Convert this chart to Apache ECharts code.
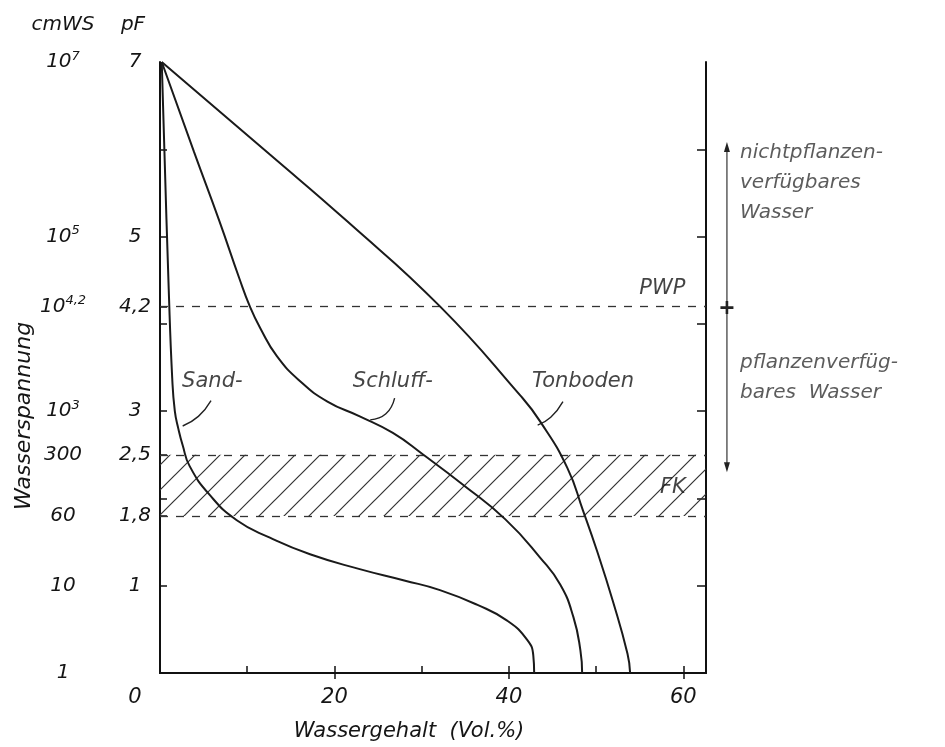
<!DOCTYPE html>
<html>
<head>
<meta charset="utf-8">
<title>Wasserspannung</title>
<script src="https://cdn.jsdelivr.net/npm/echarts@6/dist/echarts.min.js"></script>
<style>
html,body{margin:0;padding:0;background:#fff;}
#main{width:945px;height:747px;}
</style>
</head>
<body>
<div id="main"></div>
<script>
// Wassergehalt (Vol.%) gegen pF
var sand = [[0.2,7],[0.5,6],[1.0,4.4],[1.4,3.38],[1.7,3.0],[2.1,2.8],[2.6,2.61],[3.4,2.37],[5.7,2.04],[8.8,1.75],[12.6,1.55],[17.2,1.36],[22.9,1.19],[28.0,1.06],[32.1,0.95],[36.4,0.78],[39.8,0.6],[42.1,0.38],[42.8,0.2],[42.9,0]];
var schluff = [[0.2,7],[3.9,5.97],[6.8,5.18],[9.1,4.52],[10.3,4.2],[11.5,3.95],[13.4,3.63],[16.1,3.34],[19.2,3.11],[22.9,2.94],[26.7,2.75],[30.2,2.5],[34.7,2.16],[39.6,1.76],[43.6,1.32],[45.9,1.01],[47.4,0.64],[48.2,0.26],[48.4,0]];
var ton = [[0.2,7],[12.6,5.94],[21.4,5.18],[32.1,4.2],[41.3,3.18],[43.6,2.88],[46.7,2.35],[48.5,1.86],[50.1,1.4],[51.9,0.83],[53.6,0.22],[53.9,0]];

// Achsen
var xLabels = [0,20,40,60];
var xTicks = [10,20,30,40,50,60];
var pfTicks = [1,1.8,2,2.5,3,4,4.2,5,6];
var pfLabels = [1,1.8,2.5,3,4.2,5,7];
var cmwsValues = [0,1,1.8,2.5,3,4.2,5,7];
var cmwsBase = ['1','10','60','300','10','10','10','10'];
var cmwsExp = ['','','','','3','4,2','5','7'];

// Grenzwerte
var pwp = 4.2;
var fk = [1.8,2.5];

// Beschriftungen im Diagramm
var curveLabels = [['Sand-',6.0,3.34],['Schluff-',26.7,3.34],['Tonboden',48.5,3.34],['PWP',57.6,4.40],['FK',58.8,2.12]];
var sandHook = [[5.85,3.12],[4.4,2.94],[2.6,2.83]];
var schluffHook = [[26.9,3.15],[25.9,2.97],[24.1,2.9]];
var tonHook = [[46.2,3.11],[44.8,2.93],[43.3,2.84]];
var arrowPts = [[65,6.03],[65,4.2],[65,2.38]];
var sideTexts = [['nichtpflanzen-\nverfügbares\nWasser',66.5,5.62],['pflanzenverfüg-\nbares  Wasser',66.5,3.4]];

var ink = '#151515';

// Schraffur fuer FK
var hatch = document.createElement('canvas');
hatch.width = 25; hatch.height = 25;
var ctx = hatch.getContext('2d');
ctx.strokeStyle = '#333';
ctx.lineWidth = 1.2;
ctx.beginPath();
ctx.moveTo(0,25); ctx.lineTo(25,0);
ctx.moveTo(-3,3); ctx.lineTo(3,-3);
ctx.moveTo(22,28); ctx.lineTo(28,22);
ctx.stroke();

var myChart = echarts.init(document.getElementById('main'));

function curve(name, data) {
    return {
        name: name, type: 'line', data: data, smooth: 0.5,
        symbol: 'none', silent: true, z: 5,
        lineStyle: {color: '#1a1a1a', width: 2}
    };
}
function hook(data) {
    return {
        type: 'line', data: data, smooth: 0.5, symbol: 'none', silent: true, z: 5,
        lineStyle: {color: '#222', width: 1.4}
    };
}

var sandSeries = curve('Sand', sand);
sandSeries.markLine = {
    silent: true, symbol: 'none', label: {show: false},
    lineStyle: {color: '#333', width: 1.3, type: [8,8]},
    data: [{yAxis: pwp}, {yAxis: fk[0]}, {yAxis: fk[1]}]
};
sandSeries.markArea = {
    silent: true,
    itemStyle: {color: {image: hatch, repeat: 'repeat'}, opacity: 1},
    data: [[{yAxis: fk[0]}, {yAxis: fk[1]}]]
};

var option = {
    animation: false,
    grid: [
        {left: 160, right: 239, top: 62, bottom: 71},
        {left: 706, right: 0, top: 62, bottom: 71}
    ],
    xAxis: [
        {
            type: 'value', min: 0, max: 62.6, position: 'bottom',
            axisLine: {lineStyle: {color: '#111', width: 2}},
            axisTick: {show: true, inside: true, length: 7, customValues: xTicks, lineStyle: {color: '#111', width: 1.5}},
            axisLabel: {
                customValues: xLabels, margin: 14, fontSize: 21, fontFamily: 'DejaVu Sans', fontStyle: 'italic', color: ink,
                formatter: function (v) { return v === 0 ? '{z|0}' : String(v); },
                rich: {z: {fontSize: 21, fontFamily: 'DejaVu Sans', fontStyle: 'italic', color: ink, padding: [0,50,0,0]}}
            },
            splitLine: {show: false},
            name: 'Wassergehalt  (Vol.%)', nameLocation: 'middle', nameGap: 48,
            nameTextStyle: {fontSize: 21, fontFamily: 'DejaVu Sans', fontStyle: 'italic', color: ink, padding: [0,48,0,0]}
        },
        {
            type: 'value', min: 0, max: 62.6, position: 'top',
            axisLine: {lineStyle: {color: '#111', width: 2}},
            axisTick: {show: true, inside: true, length: 6, customValues: [20,40,60], lineStyle: {color: '#111', width: 1.5}},
            axisLabel: {show: false}, splitLine: {show: false}
        },
        {
            type: 'value', gridIndex: 1, min: 62.6, max: 90, show: false
        }
    ],
    yAxis: [
        {
            type: 'value', min: 0, max: 7, position: 'left',
            axisLine: {show: true, lineStyle: {color: '#111', width: 2}},
            axisTick: {show: true, inside: true, length: 7, customValues: pfTicks, lineStyle: {color: '#111', width: 1.5}},
            axisLabel: {show: false}, splitLine: {show: false}
        },
        {
            type: 'value', min: 0, max: 7, position: 'left', offset: 25,
            axisLine: {show: false}, axisTick: {show: false}, splitLine: {show: false},
            axisLabel: {
                customValues: pfLabels, margin: 0, align: 'center', fontSize: 20,
                fontFamily: 'DejaVu Sans', fontStyle: 'italic', color: ink,
                formatter: function (v) { return String(v).replace('.', ','); }
            }
        },
        {
            type: 'value', min: 0, max: 7, position: 'left', offset: 97,
            axisLine: {show: false}, axisTick: {show: false}, splitLine: {show: false},
            axisLabel: {
                customValues: cmwsValues, margin: 0, align: 'center', fontSize: 20,
                fontFamily: 'DejaVu Sans', fontStyle: 'italic', color: ink,
                formatter: function (v) {
                    var i = cmwsValues.indexOf(v);
                    if (i < 0) return '';
                    return cmwsExp[i] ? '{b|' + cmwsBase[i] + '}{e|' + cmwsExp[i] + '}' : '{b|' + cmwsBase[i] + '}';
                },
                rich: {
                    b: {fontSize: 20, lineHeight: 24, fontFamily: 'DejaVu Sans', fontStyle: 'italic', color: ink},
                    e: {fontSize: 13, lineHeight: 13, verticalAlign: 'top', fontFamily: 'DejaVu Sans', fontStyle: 'italic', color: ink}
                }
            }
        },
        {
            type: 'value', min: 0, max: 7, position: 'right',
            axisLine: {show: true, lineStyle: {color: '#111', width: 2}},
            axisTick: {show: true, inside: true, length: 9, customValues: [1,2,3,4,5,6], lineStyle: {color: '#111', width: 1.5}},
            axisLabel: {show: false}, splitLine: {show: false}
        },
        {
            type: 'value', gridIndex: 1, min: 0, max: 7, show: false
        }
    ],
    graphic: [
        {
            type: 'text', x: 24, y: 416, rotation: Math.PI / 2,
            style: {text: 'Wasserspannung', fill: ink, font: 'italic 22px "DejaVu Sans"', align: 'center', verticalAlign: 'middle'}
        },
        {
            type: 'text', x: 63, y: 25,
            style: {text: 'cmWS', fill: ink, font: 'italic 20px "DejaVu Sans"', align: 'center', verticalAlign: 'middle'}
        },
        {
            type: 'text', x: 133, y: 25,
            style: {text: 'pF', fill: ink, font: 'italic 20px "DejaVu Sans"', align: 'center', verticalAlign: 'middle'}
        }
    ],
    series: [
        sandSeries,
        curve('Schluff', schluff),
        curve('Tonboden', ton),
        hook(sandHook),
        hook(schluffHook),
        hook(tonHook),
        {
            type: 'scatter', silent: true, symbolSize: 0, z: 6,
            data: curveLabels.map(function (d) { return {name: d[0], value: [d[1], d[2]]}; }),
            label: {show: true, position: 'inside', formatter: '{b}', fontSize: 21,
                fontFamily: 'DejaVu Sans', fontStyle: 'italic', color: ink}
        },
        {
            type: 'line', xAxisIndex: 2, yAxisIndex: 4, silent: true, z: 6,
            lineStyle: {color: '#333', width: 1.2},
            itemStyle: {color: '#222'},
            showSymbol: true,
            data: [
                {value: arrowPts[0], symbol: 'triangle', symbolSize: [6, 10], symbolRotate: 0},
                {value: arrowPts[1], symbol: 'path://M4,0H6V4H10V6H6V10H4V6H0V4H4Z', symbolSize: 13},
                {value: arrowPts[2], symbol: 'triangle', symbolSize: [6, 10], symbolRotate: 180}
            ]
        },
        {
            type: 'scatter', xAxisIndex: 2, yAxisIndex: 4, silent: true, symbolSize: 0, z: 6,
            data: sideTexts.map(function (d) { return {name: d[0], value: [d[1], d[2]]}; }),
            label: {show: true, position: 'right', distance: 0, formatter: '{b}', fontSize: 20, lineHeight: 30,
                align: 'left', fontFamily: 'DejaVu Sans', fontStyle: 'italic', color: '#333'}
        }
    ]
};

myChart.setOption(option);
</script>
</body>
</html>
